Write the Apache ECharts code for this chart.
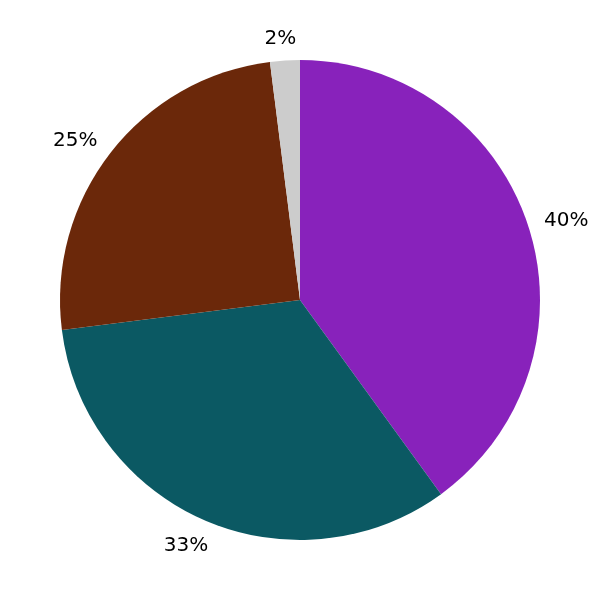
<!DOCTYPE html>
<html><head><meta charset="utf-8">
<script src="https://cdn.jsdelivr.net/npm/echarts@6/dist/echarts.min.js"></script>
<style>html,body{margin:0;padding:0;background:#fff}#c{width:600px;height:600px}</style>
</head><body><div id="c"></div>
<script>
const categories = ['A', 'B', 'C', 'D'];
const values = [40, 33, 25, 2];
const colors = ['#8822bb', '#0b5963', '#6b280a', '#cccccc'];

const chart = echarts.init(document.getElementById('c'), null, {renderer: 'canvas'});
const total = values.reduce((a, b) => a + b, 0);
let cum = 0;
const data = categories.map((n, i) => ({name: n, value: values[i], itemStyle: {color: colors[i]}}));
const labelData = categories.map((n, i) => {
  const mid = (cum + values[i] / 2) / total * 2 * Math.PI;
  cum += values[i];
  return {name: n, value: values[i], label: {offset: [17 * Math.sin(mid) - 2, 3]}};
});
chart.setOption({
  animation: false,
  series: [
    {
      type: 'pie', center: [300, 300], radius: [0, 240], startAngle: 90, clockwise: true,
      silent: true, label: {show: false}, labelLine: {show: false},
      itemStyle: {borderWidth: 0}, data: data
    },
    {
      type: 'pie', center: [300, 300], radius: [0, 524], startAngle: 90, clockwise: true,
      silent: true, z: 5,
      itemStyle: {color: 'rgba(0,0,0,0)', borderWidth: 0},
      label: {show: true, position: 'inside', formatter: '{d}%', color: '#000',
        fontFamily: 'DejaVu Sans', fontSize: 20},
      labelLine: {show: false},
      data: labelData
    }
  ]
});
</script></body></html>
